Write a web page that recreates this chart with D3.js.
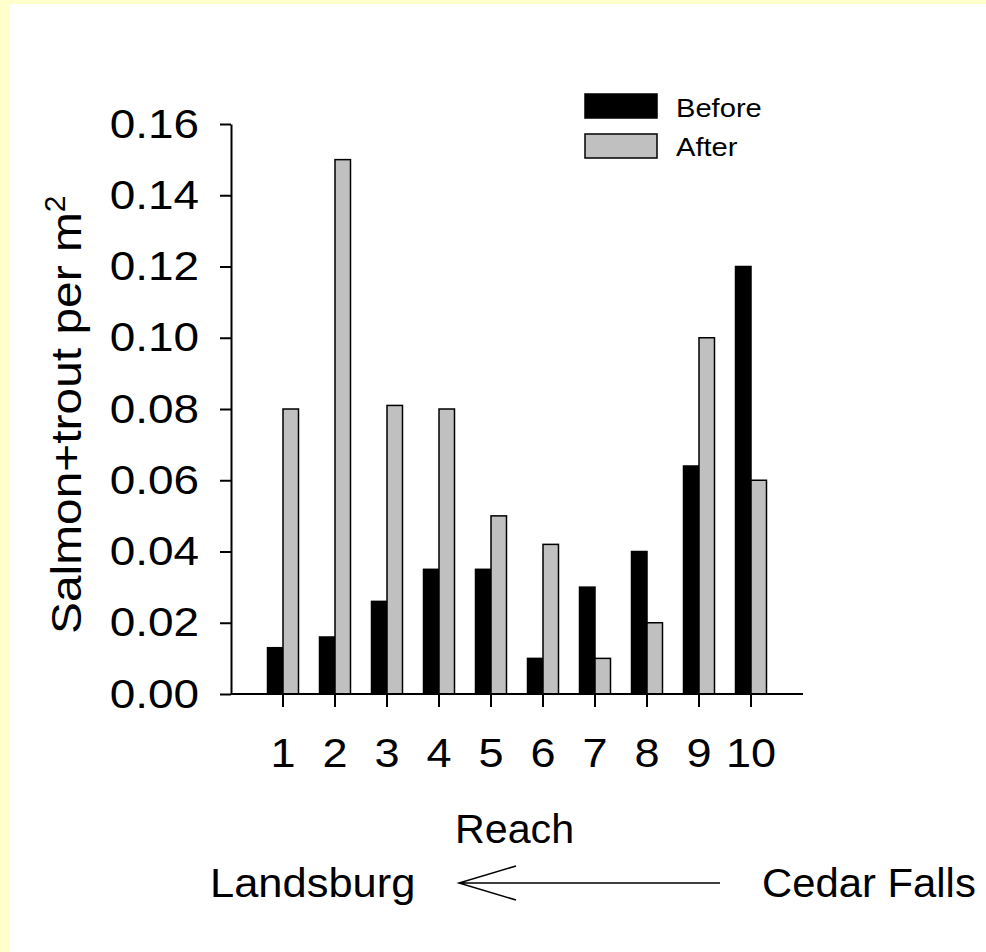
<!DOCTYPE html>
<html>
<head>
<meta charset="utf-8">
<script src="https://cdn.jsdelivr.net/npm/d3@7"></script>
<style>
  html, body { margin: 0; padding: 0; background: #ffffcc; }
  svg { display: block; }
  text { font-family: "Liberation Sans", Arial, Helvetica, sans-serif; fill: #000; }
</style>
</head>
<body>
<svg id="chart" width="986" height="952"></svg>
<script>
// Fish density by reach, before and after
const reaches = ["1", "2", "3", "4", "5", "6", "7", "8", "9", "10"];
const seriesNames = ["Before", "After"];
const seriesColors = ["#000000", "#c0c0c0"];
const beforeValues = [0.013, 0.016, 0.026, 0.035, 0.035, 0.010, 0.030, 0.040, 0.064, 0.120];
const afterValues  = [0.080, 0.150, 0.081, 0.080, 0.050, 0.042, 0.010, 0.020, 0.100, 0.060];
const yTickValues = [0, 0.02, 0.04, 0.06, 0.08, 0.10, 0.12, 0.14, 0.16];
const yTickLabels = ["0.00", "0.02", "0.04", "0.06", "0.08", "0.10", "0.12", "0.14", "0.16"];

const svg = d3.select("#chart");

// page frame: pale yellow edge with white drawing area
svg.append("rect").attr("x", 0).attr("y", 0).attr("width", 986).attr("height", 952).attr("fill", "#ffffcc");
svg.append("rect").attr("x", 10).attr("y", 4).attr("width", 976).attr("height", 948).attr("fill", "#ffffff");

const plot = { left: 231, right: 803, top: 124, bottom: 694 };

const y = d3.scaleLinear().domain([0, 0.16]).range([plot.bottom, plot.top]);
const x = d3.scaleBand().domain(reaches).range([257, 777]).paddingInner(0.404).paddingOuter(0.202);
const xInner = d3.scaleBand().domain(seriesNames).range([0, x.bandwidth()]);

// widen glyphs slightly so the lettering matches the chart's typeface
function stretchText(sel, k) {
  sel.each(function () {
    const w = this.getComputedTextLength();
    this.setAttribute("textLength", w * k);
    this.setAttribute("lengthAdjust", "spacingAndGlyphs");
  });
}

// bars
const rows = reaches.map((r, i) => ({ reach: r, values: [beforeValues[i], afterValues[i]] }));
const groups = svg.append("g").selectAll("g").data(rows).join("g")
  .attr("transform", d => `translate(${x(d.reach)},0)`);
groups.selectAll("rect")
  .data(d => d.values.map((v, j) => ({ key: seriesNames[j], value: v, color: seriesColors[j] })))
  .join("rect")
  .attr("x", d => xInner(d.key))
  .attr("width", xInner.bandwidth())
  .attr("y", d => y(d.value))
  .attr("height", d => y(0) - y(d.value))
  .attr("fill", d => d.color)
  .attr("stroke", "#000")
  .attr("stroke-width", 1.5);

// y axis
const yAxis = svg.append("g")
  .attr("transform", `translate(${plot.left},0)`)
  .call(d3.axisLeft(y).tickValues(yTickValues).tickFormat((d, i) => yTickLabels[i])
    .tickSizeInner(11).tickSizeOuter(0).tickPadding(21));
yAxis.select(".domain").attr("stroke", "#000").attr("stroke-width", 2);
yAxis.selectAll(".tick line").attr("stroke", "#000").attr("stroke-width", 2);
yAxis.selectAll(".tick text").attr("font-size", 41).attr("font-family", null);
stretchText(yAxis.selectAll(".tick text"), 1.12);

// x axis
const xAxis = svg.append("g")
  .attr("transform", `translate(0,${plot.bottom})`)
  .call(d3.axisBottom(x).tickSizeInner(13).tickSizeOuter(0).tickPadding(31));
xAxis.select(".domain").remove();
xAxis.selectAll(".tick line").attr("stroke", "#000").attr("stroke-width", 2);
xAxis.selectAll(".tick text").attr("font-size", 41).attr("font-family", null);
stretchText(xAxis.selectAll(".tick text"), 1.1);
svg.append("line")
  .attr("x1", plot.left).attr("x2", plot.right)
  .attr("y1", y(0)).attr("y2", y(0))
  .attr("stroke", "#000").attr("stroke-width", 2);

// axis titles
const xTitle = svg.append("text")
  .attr("x", 455).attr("y", 843)
  .attr("font-size", 40)
  .text("Reach");
stretchText(xTitle, 1.03);

const yTitle = svg.append("text")
  .attr("transform", "translate(81,634) rotate(-90)")
  .attr("font-size", 42);
const yMain = yTitle.append("tspan").attr("x", 0).text("Salmon+trout per m");
stretchText(yMain, 1.14);
yTitle.append("tspan").attr("dy", -16).attr("font-size", 30).text("2");

// legend
const legend = svg.append("g");
seriesNames.forEach((name, i) => {
  legend.append("rect")
    .attr("x", 585).attr("y", 94 + i * 40)
    .attr("width", 72).attr("height", 24)
    .attr("fill", seriesColors[i]).attr("stroke", "#000").attr("stroke-width", 1.5);
  const t = legend.append("text")
    .attr("x", 676).attr("y", 117 + i * 39)
    .attr("font-size", 26)
    .text(name);
  stretchText(t, 1.12);
});

// river direction note
const note = svg.append("g");
const left = note.append("text").attr("x", 210).attr("y", 897).attr("font-size", 41).text("Landsburg");
stretchText(left, 1.06);
const right = note.append("text").attr("x", 762).attr("y", 897).attr("font-size", 41).text("Cedar Falls");
stretchText(right, 1.02);
note.append("path")
  .attr("d", "M720,883 L459,883 M516,866 L459,883 L516,900")
  .attr("fill", "none").attr("stroke", "#000").attr("stroke-width", 1.5);
</script>
</body>
</html>
